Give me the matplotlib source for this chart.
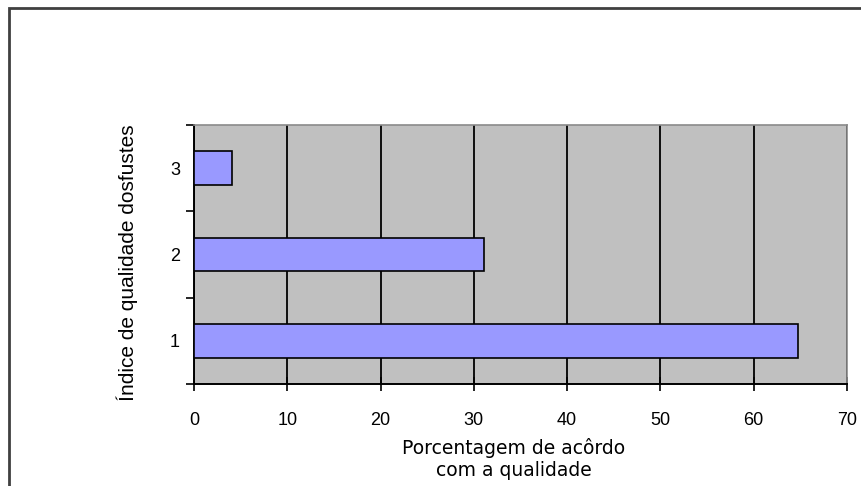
"""
Horizontal bar chart: percentage of agreement with quality, per stem quality index.
"""

import matplotlib
matplotlib.use("Agg")
import matplotlib.pyplot as plt
from matplotlib.patches import Rectangle

categories = ["1", "2", "3"]
percentages = [64.7, 31.1, 4.1]
x_ticks = [0, 10, 20, 30, 40, 50, 60, 70]

BAR_COLOR = "#9999FF"
PLOT_BG = "#C0C0C0"

plt.rcParams["font.family"] = ["Liberation Sans", "DejaVu Sans"]

fig = plt.figure(figsize=(8.62, 4.86), dpi=100)
ax = fig.add_axes([194 / 862, 1 - 384 / 486, 653 / 862, 259 / 486])
ax.set_facecolor(PLOT_BG)

pos = list(range(len(categories)))
ax.barh(pos, percentages, height=0.39, color=BAR_COLOR, edgecolor="black",
        linewidth=1.2, zorder=3)

ax.set_xlim(0, 70)
ax.set_ylim(-0.5, len(categories) - 0.5)
ax.set_xticks(x_ticks)
ax.set_xticklabels([str(t) for t in x_ticks])
ax.set_yticks(pos)
ax.set_yticklabels(categories)
ax.set_yticks([p - 0.5 for p in pos] + [len(categories) - 0.5], minor=True)

ax.grid(axis="x", color="black", linewidth=1.3, zorder=1)
ax.set_axisbelow(True)

ax.tick_params(axis="x", direction="inout", length=10, width=1.2, labelsize=13,
               pad=15, colors="black")
ax.tick_params(axis="y", which="major", length=0, labelsize=13, pad=10)
ax.tick_params(axis="y", which="minor", direction="out", length=6, width=1.2)

for side in ["left", "bottom"]:
    ax.spines[side].set_color("black")
    ax.spines[side].set_linewidth(1.4)
for side in ["top", "right"]:
    ax.spines[side].set_color("#8a8a8a")
    ax.spines[side].set_linewidth(1.2)

ax.set_xlabel("Porcentagem de acôrdo\ncom a qualidade", fontsize=13.5,
              family=["DejaVu Sans"], labelpad=7, linespacing=1.15)
ax.xaxis.label.set_position((0.49, 0))
ax.set_ylabel("Índice de qualidade dosfustes", fontsize=15, labelpad=23)
ax.yaxis.label.set_position((0, 0.47))

# outer chart frame (runs off the right and bottom edges)
fig.patches.append(Rectangle((9 / 862, -0.1), 1.1, 1.1 - 8 / 486,
                             transform=fig.transFigure, fill=False,
                             edgecolor="#404040", linewidth=2))

fig.savefig("out.png", dpi=100)
